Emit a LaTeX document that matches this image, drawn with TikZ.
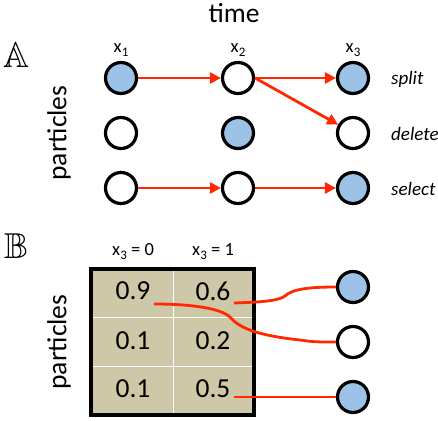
\documentclass[tikz,border=0pt]{standalone}
\usepackage{amssymb}
\usepackage{fontspec}
\setmainfont{Carlito}
\usetikzlibrary{arrows.meta}
\definecolor{pblue}{RGB}{157,194,232}
\definecolor{pred}{RGB}{255,40,0}
\definecolor{ptan}{RGB}{207,200,168}
\newcommand{\xs}[1]{x\kern0.3pt\raisebox{-0.45ex}{\fontsize{13}{13}\selectfont #1}}
\begin{document}
\begin{tikzpicture}[x=1pt,y=-1pt,
 pc/.style={circle,draw=black,line width=3.2pt,minimum size=31pt,inner sep=0pt,fill=white},
 full/.style={pc,fill=pblue},
 arr/.style={draw=pred,line width=2.8pt,-{Triangle[length=11pt,width=11pt]}},
 link/.style={draw=pred,line width=2.8pt},
 big/.style={font=\fontsize{27.5}{30}\selectfont,inner sep=0pt},
 lab/.style={font=\fontsize{18.5}{20}\selectfont,inner sep=0pt},
 op/.style={font=\fontsize{19}{20}\selectfont\itshape,anchor=west,inner sep=0pt},
 panel/.style={font=\fontsize{36}{40}\selectfont,inner sep=0pt}]
\useasboundingbox (0,0) rectangle (438,420);
% ---------- Panel A ----------
\node[big] (time) at (234,13) {time};
\node[panel] (pA) at (17,55) {$\mathbb{A}$};
\node[big,rotate=90] (partA) at (59,133) {particles};
\node[lab] (x1) at (121,50) {\xs{1}};
\node[lab] (x2) at (238,50) {\xs{2}};
\node[lab] (x3) at (353,50) {\xs{3}};
\node[full] (a11) at (121,78) {};
\node[pc]   (a12) at (121,133) {};
\node[pc]   (a13) at (121,188) {};
\node[pc]   (a21) at (238,78) {};
\node[full] (a22) at (238,133) {};
\node[pc]   (a23) at (238,188) {};
\node[full] (a31) at (353,78) {};
\node[pc]   (a32) at (353,133) {};
\node[full] (a33) at (353,188) {};
\node[op] (split) at (391,79) {split};
\node[op] (delete) at (391,134) {delete};
\node[op] (select) at (391,189) {select};
\draw[arr] (a11) -- (a21);
\draw[arr] (a21.east) -- (a31);
\draw[arr] (a21.east) -- (a32);
\draw[arr] (a13) -- (a23);
\draw[arr] (a23) -- (a33);
% ---------- Panel B ----------
\node[panel] (pB) at (17,246) {$\mathbb{B}$};
\node[big,rotate=90] (partB) at (59,342) {particles};
\node[lab] (h0) at (133,252) {\xs{3} = 0};
\node[lab] (h1) at (213,252) {\xs{3} = 1};
\fill[ptan] (91,269) rectangle (254,415);
\draw[white,line width=1pt] (173,269) -- (173,415);
\draw[white,line width=1pt] (91,317) -- (254,317);
\draw[white,line width=1pt] (91,366) -- (254,366);
\draw[black,line width=4.5pt] (91,269) rectangle (254,415);
\node[big] (c11) at (133,291) {0.9};
\node[big] (c12) at (213,291) {0.6};
\node[big] (c21) at (133,341) {0.1};
\node[big] (c22) at (213,341) {0.2};
\node[big] (c31) at (133,389) {0.1};
\node[big] (c32) at (213,389) {0.5};
\node[full] (b1) at (353,287) {};
\node[pc]   (b2) at (353,342) {};
\node[full] (b3) at (353,397) {};
\coordinate (s1) at (234,303);
\coordinate (s2) at (154,304);
\coordinate (s3) at (234,397);
\draw[link] (s1) .. controls (262,302) and (278,301) .. (285,296)
            .. controls (292,289) and (310,287) .. (b1.west);
\draw[link] (s2) .. controls (190,304) and (222,308) .. (231,318)
            .. controls (240,329) and (262,336) .. (300,340)
            .. controls (315,342) .. (b2.west);
\draw[link] (s3) -- (b3.west);
\end{tikzpicture}
\end{document}
